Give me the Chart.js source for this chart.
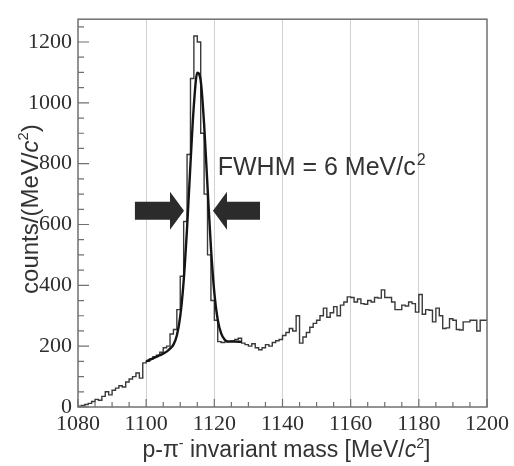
<!DOCTYPE html>
<html>
<head>
<meta charset="utf-8">
<title>p-π⁻ invariant mass</title>
<script src="https://cdn.jsdelivr.net/npm/chart.js@4.4.0/dist/chart.umd.min.js"></script>
<style>
    html, body { margin: 0; padding: 0; background: #fff; }
    #wrap { width: 514px; height: 466px; }
</style>
</head>
<body>
<div id="wrap"><canvas id="massChart" width="514" height="466"></canvas></div>
<script>
    // histogram: 1 MeV/c2 bins, first bin starts at 1080
    var binStart = 1080;
    var binWidth = 1;
    var binCounts = [
        2, 3, 5, 8, 12, 18, 25, 22, 35, 50,
        40, 55, 62, 70, 66, 82, 92, 100, 112, 95,
        145, 150, 158, 165, 170, 180, 195, 200, 240, 255,
        320, 430, 610, 830, 1080, 1220, 1200, 900, 700, 500,
        350, 285, 215, 212, 214, 216, 218, 222, 226, 210,
        205, 200, 208, 195, 188, 195, 205, 200, 212, 218,
        222, 235, 245, 258, 250, 300, 210, 230, 245, 262,
        275, 285, 300, 325, 295, 310, 330, 300, 335, 345,
        362, 360, 345, 355, 340, 338, 350, 345, 360, 358,
        385, 360, 360, 345, 320, 320, 335, 332, 345, 340,
        312, 370, 305, 320, 318, 280, 325, 300, 258, 260,
        290, 285, 255, 253, 280, 280, 285, 285, 250, 285
    ];

    // fitted peak + background
    var fitMass   = [1100, 1102, 1104, 1106, 1107, 1108, 1109, 1110, 1111, 1112, 1113, 1114, 1115, 1116, 1117, 1118, 1119, 1120, 1121, 1122, 1123, 1124, 1126, 1128];
    var fitCounts = [150, 160, 170, 182, 192, 205, 235, 299, 414, 589, 800, 993, 1099, 1073, 930, 724, 525, 376, 287, 242, 222, 215, 215, 214];

    var xTicks = [1080, 1100, 1120, 1140, 1160, 1180, 1200];
    var yTicks = [0, 200, 400, 600, 800, 1000, 1200];

    var histPoints = binCounts.map(function(c, i) {
        return { x: binStart + i * binWidth, y: c };
    });
    histPoints.push({ x: binStart + binCounts.length * binWidth, y: binCounts[binCounts.length - 1] });

    var fitPoints = fitMass.map(function(m, i) {
        return { x: m, y: fitCounts[i] };
    });

    function drawRich(ctx, parts, x, y, size, family) {
        // measure first so the whole string can be centred
        var total = 0;
        parts.forEach(function(p) {
            var s = p.sup ? size * 0.62 : size;
            ctx.font = (p.italic ? 'italic ' : '') + s + 'px ' + family;
            p.w = ctx.measureText(p.t).width;
            total += p.w;
        });
        var cx = x - total / 2;
        parts.forEach(function(p) {
            var s = p.sup ? size * 0.62 : size;
            ctx.font = (p.italic ? 'italic ' : '') + s + 'px ' + family;
            ctx.fillText(p.t, cx, p.sup ? y - size * 0.4 : y);
            cx += p.w;
        });
    }

    var decorPlugin = {
        id: 'decor',
        afterDatasetsDraw: function(chart) {
            var ctx = chart.ctx;
            var a = chart.chartArea;
            var xs = chart.scales.x, ys = chart.scales.y;
            ctx.save();

            // frame
            ctx.strokeStyle = '#707070';
            ctx.lineWidth = 1.5;
            ctx.strokeRect(a.left, a.top, a.right - a.left, a.bottom - a.top);

            // inward ticks
            ctx.lineWidth = 1.2;
            ctx.beginPath();
            for (var m = 1080; m <= 1200; m += 5) {
                var px = xs.getPixelForValue(m);
                var len = (m % 20 === 0) ? 8 : 5;
                ctx.moveTo(px, a.bottom);
                ctx.lineTo(px, a.bottom - len);
            }
            for (var v = 0; v <= 1250; v += 50) {
                var py = ys.getPixelForValue(v);
                var l = (v % 200 === 0) ? 11 : 6;
                ctx.moveTo(a.left, py);
                ctx.lineTo(a.left + l, py);
            }
            ctx.stroke();

            // FWHM arrows
            ctx.fillStyle = '#2b2b2b';
            var ay = ys.getPixelForValue(645);
            function arrow(tail, tip) {
                var t0 = xs.getPixelForValue(tail), t1 = xs.getPixelForValue(tip);
                var dir = t1 > t0 ? 1 : -1;
                var hb = t1 - dir * 14;
                ctx.beginPath();
                ctx.moveTo(t0, ay - 9);
                ctx.lineTo(hb, ay - 9);
                ctx.lineTo(hb, ay - 19);
                ctx.lineTo(t1, ay);
                ctx.lineTo(hb, ay + 19);
                ctx.lineTo(hb, ay + 9);
                ctx.lineTo(t0, ay + 9);
                ctx.closePath();
                ctx.fill();
            }
            arrow(1096.7, 1111.1);
            arrow(1133.4, 1119.6);

            // FWHM label
            ctx.fillStyle = '#333';
            ctx.textBaseline = 'alphabetic';
            ctx.font = '25px "Liberation Sans", Arial, sans-serif';
            var fx = xs.getPixelForValue(1121);
            var fy = ys.getPixelForValue(763);
            var main = 'FWHM = 6 MeV/c';
            ctx.fillText(main, fx, fy);
            var mw = ctx.measureText(main).width;
            ctx.font = '16px "Liberation Sans", Arial, sans-serif';
            ctx.fillText('2', fx + mw + 1, fy - 10);

            // axis titles
            var fam = '"Liberation Sans", Arial, sans-serif';
            drawRich(ctx, [
                { t: 'p-π' }, { t: '-', sup: true }, { t: ' invariant mass [MeV/' },
                { t: 'c', italic: true }, { t: '2', sup: true }, { t: ']' }
            ], (a.left + a.right) / 2 + 4, 457, 23, fam);

            ctx.translate(38, (a.top + a.bottom) / 2 - 4);
            ctx.rotate(-Math.PI / 2);
            drawRich(ctx, [
                { t: 'counts/(MeV/' }, { t: 'c', italic: true }, { t: '2', sup: true }, { t: ')' }
            ], 0, 0, 24, fam);

            ctx.restore();
        }
    };

    var tickFont = { family: '"Liberation Serif", "Times New Roman", serif', size: 22 };
    var plainLabel = function(value) { return String(value); };

    var ctx = document.getElementById('massChart').getContext('2d');
    var massChart = new Chart(ctx, {
        type: 'line',
        data: {
            datasets: [{
                label: 'fit',
                data: fitPoints,
                borderColor: '#141414',
                borderWidth: 2.4,
                pointRadius: 0,
                fill: false,
                cubicInterpolationMode: 'monotone'
            }, {
                label: 'counts',
                data: histPoints,
                borderColor: '#3a3a3a',
                borderWidth: 1.4,
                pointRadius: 0,
                fill: false,
                stepped: 'after'
            }]
        },
        options: {
            responsive: false,
            animation: false,
            layout: { padding: { left: 0, right: 27, top: 10, bottom: 0 } },
            plugins: { legend: { display: false }, tooltip: { enabled: false } },
            scales: {
                x: {
                    type: 'linear',
                    min: 1080,
                    max: 1200,
                    afterBuildTicks: function(scale) {
                        scale.ticks = xTicks.map(function(v) { return { value: v }; });
                    },
                    afterFit: function(scale) { scale.height = 59; },
                    ticks: { padding: 4, color: '#2e2e2e', font: tickFont, callback: plainLabel },
                    grid: {
                        drawTicks: false,
                        lineWidth: 1,
                        color: function(c) {
                            var v = c.tick ? c.tick.value : 0;
                            return (v > 1080 && v < 1200) ? '#d2d2d2' : 'rgba(0,0,0,0)';
                        }
                    },
                    border: { display: false }
                },
                y: {
                    min: 0,
                    max: 1275,
                    afterBuildTicks: function(scale) {
                        scale.ticks = yTicks.map(function(v) { return { value: v }; });
                    },
                    afterFit: function(scale) { scale.width = 78; },
                    ticks: { padding: 6, color: '#2e2e2e', font: tickFont, callback: plainLabel },
                    grid: { display: false, drawTicks: false },
                    border: { display: false }
                }
            }
        },
        plugins: [decorPlugin]
    });
</script>
</body>
</html>
